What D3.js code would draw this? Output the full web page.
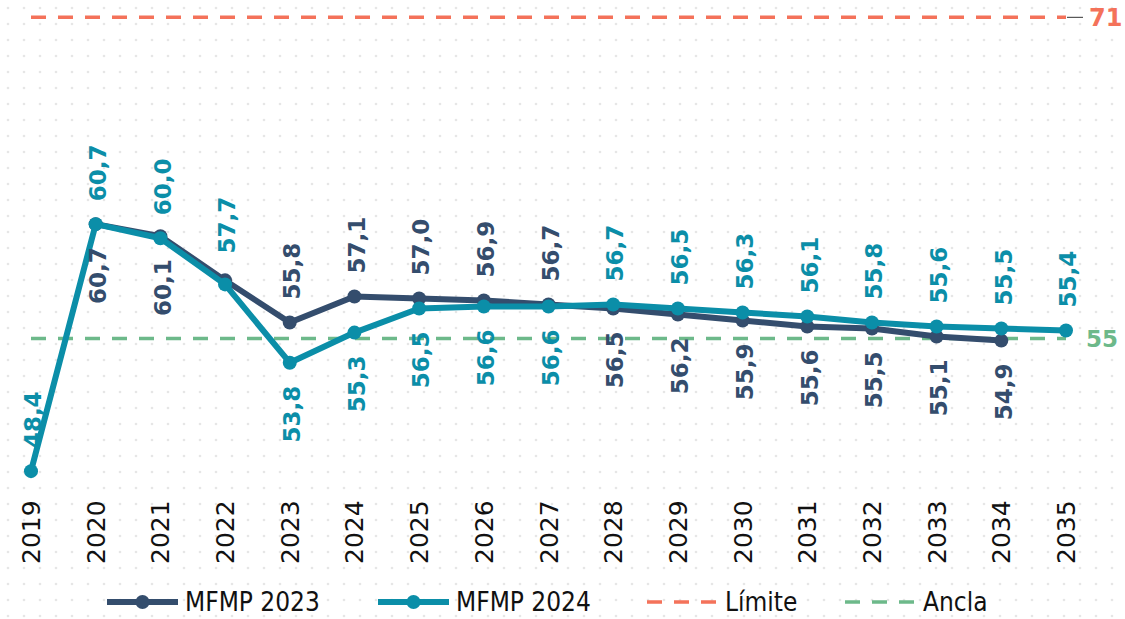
<!DOCTYPE html>
<html>
<head>
<meta charset="utf-8">
<script src="https://cdn.jsdelivr.net/npm/d3@7"></script>
<style>
  body { margin: 0; background: #fff; }
  svg { display: block; }
</style>
</head>
<body>
<svg id="chart" width="1125" height="619"></svg>
<script>
// data
const years = ['2019','2020','2021','2022','2023','2024','2025','2026','2027',
               '2028','2029','2030','2031','2032','2033','2034','2035'];
const mfmp2023 = [null, 60.7, 60.1, 57.9, 55.8, 57.1, 57.0, 56.9, 56.7,
                  56.5, 56.2, 55.9, 55.6, 55.5, 55.1, 54.9, null];
const mfmp2024 = [48.4, 60.7, 60.0, 57.7, 53.8, 55.3, 56.5, 56.6, 56.6,
                  56.7, 56.5, 56.3, 56.1, 55.8, 55.6, 55.5, 55.4];
const limite = 71;
const ancla = 55;
const seriesNames = ['MFMP 2023', 'MFMP 2024', 'Límite', 'Ancla'];

const darkCol = '#344d6d';
const tealCol = '#0b8ea8';
const redCol = '#f4725a';
const greenCol = '#6db98a';

document.addEventListener('DOMContentLoaded', function () {
    drawChart();
});

function fmt(v) {
    return v.toFixed(1).replace('.', ',');
}

function drawChart() {
    const svg = d3.select('#chart');

    // faint dotted background
    const defs = svg.append('defs');
    const pat = defs.append('pattern')
        .attr('id', 'dots')
        .attr('width', 16).attr('height', 16)
        .attr('patternUnits', 'userSpaceOnUse');
    pat.append('circle').attr('cx', 8).attr('cy', 8).attr('r', 1.3).attr('fill', '#e6e6e6');
    svg.append('rect').attr('width', 1125).attr('height', 619).attr('fill', 'url(#dots)');

    const x = d3.scalePoint().domain(years).range([31, 1066]);
    const y = d3.scaleLinear().domain([50, 70]).range([439, 37.4]);

    const rows = years.map((yr, i) => ({ year: yr, i: i, d: mfmp2023[i], t: mfmp2024[i] }));

    // reference lines
    [[limite, redCol], [ancla, greenCol]].forEach(([v, c]) => {
        svg.append('line')
            .attr('x1', x(years[0])).attr('x2', x(years[years.length - 1]))
            .attr('y1', y(v)).attr('y2', y(v))
            .attr('stroke', c).attr('stroke-width', 3.5)
            .attr('stroke-dasharray', '15,12');
    });
    svg.append('line')
        .attr('x1', x(years[years.length - 1]) + 1).attr('x2', x(years[years.length - 1]) + 17)
        .attr('y1', y(limite)).attr('y2', y(limite))
        .attr('stroke', '#333').attr('stroke-width', 1);
    svg.append('text')
        .attr('x', 1089).attr('y', y(limite)).attr('dy', '0.36em')
        .attr('font-family', 'DejaVu Sans').attr('font-weight', 'bold')
        .attr('font-size', 24).attr('fill', redCol)
        .text(limite);
    svg.append('text')
        .attr('x', 1086).attr('y', y(ancla)).attr('dy', '0.36em')
        .attr('font-family', 'DejaVu Sans').attr('font-weight', 'bold')
        .attr('font-size', 23).attr('fill', greenCol)
        .text(ancla);

    const line = d3.line()
        .defined(v => v.val != null)
        .x(v => x(v.year))
        .y(v => y(v.val));

    const series = [
        { key: 'd', color: darkCol },
        { key: 't', color: tealCol }
    ];

    series.forEach(s => {
        const pts = rows.map(r => ({ year: r.year, val: r[s.key] }));
        svg.append('path')
            .datum(pts)
            .attr('d', line)
            .attr('fill', 'none')
            .attr('stroke', s.color)
            .attr('stroke-width', 6)
            .attr('stroke-linejoin', 'round');
        svg.selectAll('circle.p' + s.key)
            .data(pts.filter(p => p.val != null))
            .enter()
            .append('circle')
            .attr('class', 'p' + s.key)
            .attr('cx', p => x(p.year))
            .attr('cy', p => y(p.val))
            .attr('r', 7)
            .attr('fill', s.color);
    });

    // value labels, rotated
    const gap = 23;
    rows.forEach(r => {
        const tealAbove = r.d == null || r.i < 4 || r.t >= r.d;
        const labels = [];
        if (r.t != null) labels.push({ v: r.t, c: tealCol, above: tealAbove });
        if (r.d != null && r.year !== '2022') labels.push({ v: r.d, c: darkCol, above: !tealAbove });
        labels.forEach(l => {
            // teal 2022 label sits a bit higher to clear the dark line
            const extra = (r.year === '2022' && l.c === tealCol) ? 8 : 0;
            const yy = l.above ? y(l.v) - gap - extra : y(l.v) + gap;
            svg.append('text')
                .attr('transform', `translate(${x(r.year) + 2},${yy}) rotate(-90)`)
                .attr('text-anchor', l.above ? 'start' : 'end')
                .attr('dy', '0.36em')
                .attr('font-family', 'DejaVu Sans')
                .attr('font-weight', 'bold')
                .attr('font-size', 23)
                .attr('fill', l.c)
                .text(fmt(l.v));
        });
    });

    // x axis labels
    svg.selectAll('text.year')
        .data(years)
        .enter()
        .append('text')
        .attr('class', 'year')
        .attr('transform', d => `translate(${x(d)},564) rotate(-90)`)
        .attr('text-anchor', 'start')
        .attr('dy', '0.36em')
        .attr('font-family', 'DejaVu Sans')
        .attr('font-size', 25)
        .attr('fill', '#111')
        .text(d => d);

    // legend
    const legend = [
        { name: seriesNames[0], color: darkCol, x0: 107, dash: null },
        { name: seriesNames[1], color: tealCol, x0: 378, dash: null },
        { name: seriesNames[2], color: redCol, x0: 647, dash: '15,12' },
        { name: seriesNames[3], color: greenCol, x0: 845, dash: '15,12' }
    ];
    const ly = 602;
    legend.forEach(l => {
        const g = svg.append('g').attr('transform', `translate(${l.x0},${ly})`);
        g.append('line')
            .attr('x1', 0).attr('x2', l.dash ? 70 : 71)
            .attr('stroke', l.color)
            .attr('stroke-width', l.dash ? 3.5 : 6)
            .attr('stroke-dasharray', l.dash);
        if (!l.dash) {
            g.append('circle').attr('cx', 35.5).attr('r', 7).attr('fill', l.color);
        }
        g.append('text')
            .attr('x', 78).attr('dy', '0.36em')
            .attr('font-family', "'DejaVu Sans Condensed', 'DejaVu Sans'")
            .attr('font-size', 26)
            .attr('fill', '#111')
            .text(l.name);
    });
}
</script>
</body>
</html>
